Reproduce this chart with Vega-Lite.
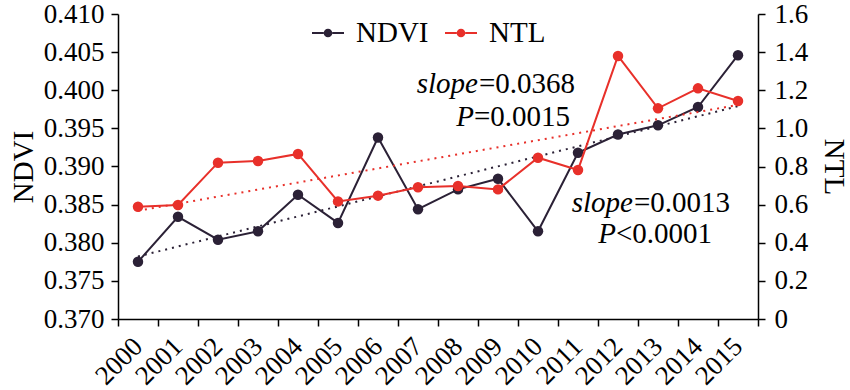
{
  "$schema": "https://vega.github.io/schema/vega-lite/v6.json",
  "width": 640,
  "height": 305,
  "autosize": {"type": "none"},
  "padding": {"left": 118, "top": 14, "right": 92, "bottom": 71},
  "background": "white",
  "config": {
    "view": {"stroke": null},
    "font": "Liberation Serif",
    "axis": {
      "grid": false,
      "domainColor": "black",
      "domainWidth": 1.5,
      "tickColor": "black",
      "tickWidth": 1.5,
      "tickSize": 7,
      "labelFont": "Liberation Serif",
      "labelFontSize": 27,
      "labelColor": "black",
      "labelOverlap": false,
      "labelFlush": false,
      "titleFont": "Liberation Serif",
      "titleFontSize": 29,
      "titleFontWeight": "normal",
      "titleColor": "black"
    }
  },
  "datasets": {
    "ndvi": [
      {"year": "2000", "series": "NDVI", "value": 0.3775},
      {"year": "2001", "series": "NDVI", "value": 0.3834},
      {"year": "2002", "series": "NDVI", "value": 0.3804},
      {"year": "2003", "series": "NDVI", "value": 0.3815},
      {"year": "2004", "series": "NDVI", "value": 0.3863},
      {"year": "2005", "series": "NDVI", "value": 0.3826},
      {"year": "2006", "series": "NDVI", "value": 0.3938},
      {"year": "2007", "series": "NDVI", "value": 0.3844},
      {"year": "2008", "series": "NDVI", "value": 0.3870},
      {"year": "2009", "series": "NDVI", "value": 0.3884},
      {"year": "2010", "series": "NDVI", "value": 0.3815},
      {"year": "2011", "series": "NDVI", "value": 0.3918},
      {"year": "2012", "series": "NDVI", "value": 0.3942},
      {"year": "2013", "series": "NDVI", "value": 0.3954},
      {"year": "2014", "series": "NDVI", "value": 0.3978},
      {"year": "2015", "series": "NDVI", "value": 0.4046}
    ],
    "ntl": [
      {"year": "2000", "series": "NTL", "value": 0.589},
      {"year": "2001", "series": "NTL", "value": 0.598},
      {"year": "2002", "series": "NTL", "value": 0.820},
      {"year": "2003", "series": "NTL", "value": 0.829},
      {"year": "2004", "series": "NTL", "value": 0.866},
      {"year": "2005", "series": "NTL", "value": 0.617},
      {"year": "2006", "series": "NTL", "value": 0.647},
      {"year": "2007", "series": "NTL", "value": 0.691},
      {"year": "2008", "series": "NTL", "value": 0.698},
      {"year": "2009", "series": "NTL", "value": 0.680},
      {"year": "2010", "series": "NTL", "value": 0.846},
      {"year": "2011", "series": "NTL", "value": 0.782},
      {"year": "2012", "series": "NTL", "value": 1.380},
      {"year": "2013", "series": "NTL", "value": 1.105},
      {"year": "2014", "series": "NTL", "value": 1.210},
      {"year": "2015", "series": "NTL", "value": 1.144}
    ],
    "ndviTrend": [
      {"year": "2000", "value": 0.3782},
      {"year": "2015", "value": 0.3979}
    ],
    "ntlTrend": [
      {"year": "2000", "value": 0.568},
      {"year": "2015", "value": 1.123}
    ]
  },
  "encoding": {
    "x": {
      "field": "year",
      "type": "ordinal",
      "scale": {"type": "band", "paddingInner": 0, "paddingOuter": 0},
      "axis": {
        "title": null,
        "tickBand": "extent",
        "labelAngle": -45,
        "labelAlign": "right",
        "labelBaseline": "middle",
        "labelPadding": 16,
        "labelOverlap": false
      }
    }
  },
  "layer": [
    {
      "layer": [
        {
          "data": {"name": "ndviTrend"},
          "mark": {"type": "line", "color": "#2b2136", "strokeWidth": 2, "strokeDash": [2, 5]},
          "encoding": {
            "y": {"field": "value", "type": "quantitative"}
          }
        },
        {
          "data": {"name": "ndvi"},
          "mark": {"type": "line", "color": "#2b2136", "strokeWidth": 2},
          "encoding": {
            "y": {
              "field": "value",
              "type": "quantitative",
              "scale": {"domain": [0.37, 0.41], "zero": false, "nice": false},
              "axis": {
                "title": "NDVI",
                "values": [0.37, 0.375, 0.38, 0.385, 0.39, 0.395, 0.4, 0.405, 0.41],
                "tickCount": 20,
                "format": ".3f",
                "labelOverlap": false,
                "labelPadding": 7,
                "titlePadding": 5
              }
            }
          }
        },
        {
          "data": {"name": "ndvi"},
          "mark": {"type": "point", "filled": true, "size": 110, "opacity": 1},
          "encoding": {
            "y": {"field": "value", "type": "quantitative"},
            "color": {
              "field": "series",
              "type": "nominal",
              "scale": {"domain": ["NDVI", "NTL"], "range": ["#2b2136", "#e8302a"]},
              "legend": {
                "title": null,
                "orient": "none",
                "direction": "horizontal",
                "legendX": 194,
                "legendY": 3,
                "symbolType": "M-1,-0.07H-0.27V0.07H-1Z M0.27,-0.07H1V0.07H0.27Z M-0.27,0A0.27,0.27 0 1,0 0.27,0A0.27,0.27 0 1,0 -0.27,0Z",
                "symbolSize": 1024,
                "symbolStrokeWidth": 0,
                "labelFont": "Liberation Serif",
                "labelFontSize": 29,
                "labelColor": "black",
                "labelOffset": 12,
                "columnPadding": 16
              }
            }
          }
        },
        {
          "data": {"values": [{"t": "slope"}]},
          "mark": {"type": "text", "fontStyle": "italic", "fontSize": 29, "align": "right", "baseline": "alphabetic", "dx": 20, "color": "black"},
          "encoding": {"text": {"field": "t"}, "x": {"datum": "2008"}, "y": {"datum": 0.39964}}
        },
        {
          "data": {"values": [{"t": "=0.0368"}]},
          "mark": {"type": "text", "fontSize": 29, "align": "left", "baseline": "alphabetic", "dx": 21, "color": "black"},
          "encoding": {"text": {"field": "t"}, "x": {"datum": "2008"}, "y": {"datum": 0.39964}}
        },
        {
          "data": {"values": [{"t": "P"}]},
          "mark": {"type": "text", "fontStyle": "italic", "fontSize": 29, "align": "right", "baseline": "alphabetic", "dx": 16, "color": "black"},
          "encoding": {"text": {"field": "t"}, "x": {"datum": "2008"}, "y": {"datum": 0.3953}}
        },
        {
          "data": {"values": [{"t": "=0.0015"}]},
          "mark": {"type": "text", "fontSize": 29, "align": "left", "baseline": "alphabetic", "dx": 16, "color": "black"},
          "encoding": {"text": {"field": "t"}, "x": {"datum": "2008"}, "y": {"datum": 0.3953}}
        },
        {
          "data": {"values": [{"t": "slope"}]},
          "mark": {"type": "text", "fontStyle": "italic", "fontSize": 29, "align": "right", "baseline": "alphabetic", "dx": 15, "color": "black"},
          "encoding": {"text": {"field": "t"}, "x": {"datum": "2012"}, "y": {"datum": 0.38403}}
        },
        {
          "data": {"values": [{"t": "=0.0013"}]},
          "mark": {"type": "text", "fontSize": 29, "align": "left", "baseline": "alphabetic", "dx": 16, "color": "black"},
          "encoding": {"text": {"field": "t"}, "x": {"datum": "2012"}, "y": {"datum": 0.38403}}
        },
        {
          "data": {"values": [{"t": "P"}]},
          "mark": {"type": "text", "fontStyle": "italic", "fontSize": 29, "align": "right", "baseline": "alphabetic", "dx": -2, "color": "black"},
          "encoding": {"text": {"field": "t"}, "x": {"datum": "2012"}, "y": {"datum": 0.37997}}
        },
        {
          "data": {"values": [{"t": "<0.0001"}]},
          "mark": {"type": "text", "fontSize": 29, "align": "left", "baseline": "alphabetic", "dx": -2, "color": "black"},
          "encoding": {"text": {"field": "t"}, "x": {"datum": "2012"}, "y": {"datum": 0.37997}}
        }
      ]
    },
    {
      "layer": [
        {
          "data": {"name": "ntlTrend"},
          "mark": {"type": "line", "color": "#e8302a", "strokeWidth": 2, "strokeDash": [2, 5]},
          "encoding": {
            "y": {"field": "value", "type": "quantitative"}
          }
        },
        {
          "data": {"name": "ntl"},
          "mark": {"type": "line", "color": "#e8302a", "strokeWidth": 2},
          "encoding": {
            "y": {
              "field": "value",
              "type": "quantitative",
              "scale": {"domain": [0, 1.6], "nice": false},
              "axis": {
                "orient": "right",
                "title": "NTL",
                "values": [0, 0.2, 0.4, 0.6, 0.8, 1.0, 1.2, 1.4, 1.6],
                "tickCount": 20,
                "labelExpr": "datum.value == 0 ? '0' : format(datum.value, '.1f')",
                "labelOverlap": false,
                "labelPadding": 9,
                "titlePadding": 11
              }
            }
          }
        },
        {
          "data": {"name": "ntl"},
          "mark": {"type": "point", "filled": true, "size": 110, "opacity": 1},
          "encoding": {
            "y": {"field": "value", "type": "quantitative"},
            "color": {"field": "series", "type": "nominal"}
          }
        }
      ]
    }
  ],
  "resolve": {"scale": {"y": "independent"}, "axis": {"y": "independent"}}
}
